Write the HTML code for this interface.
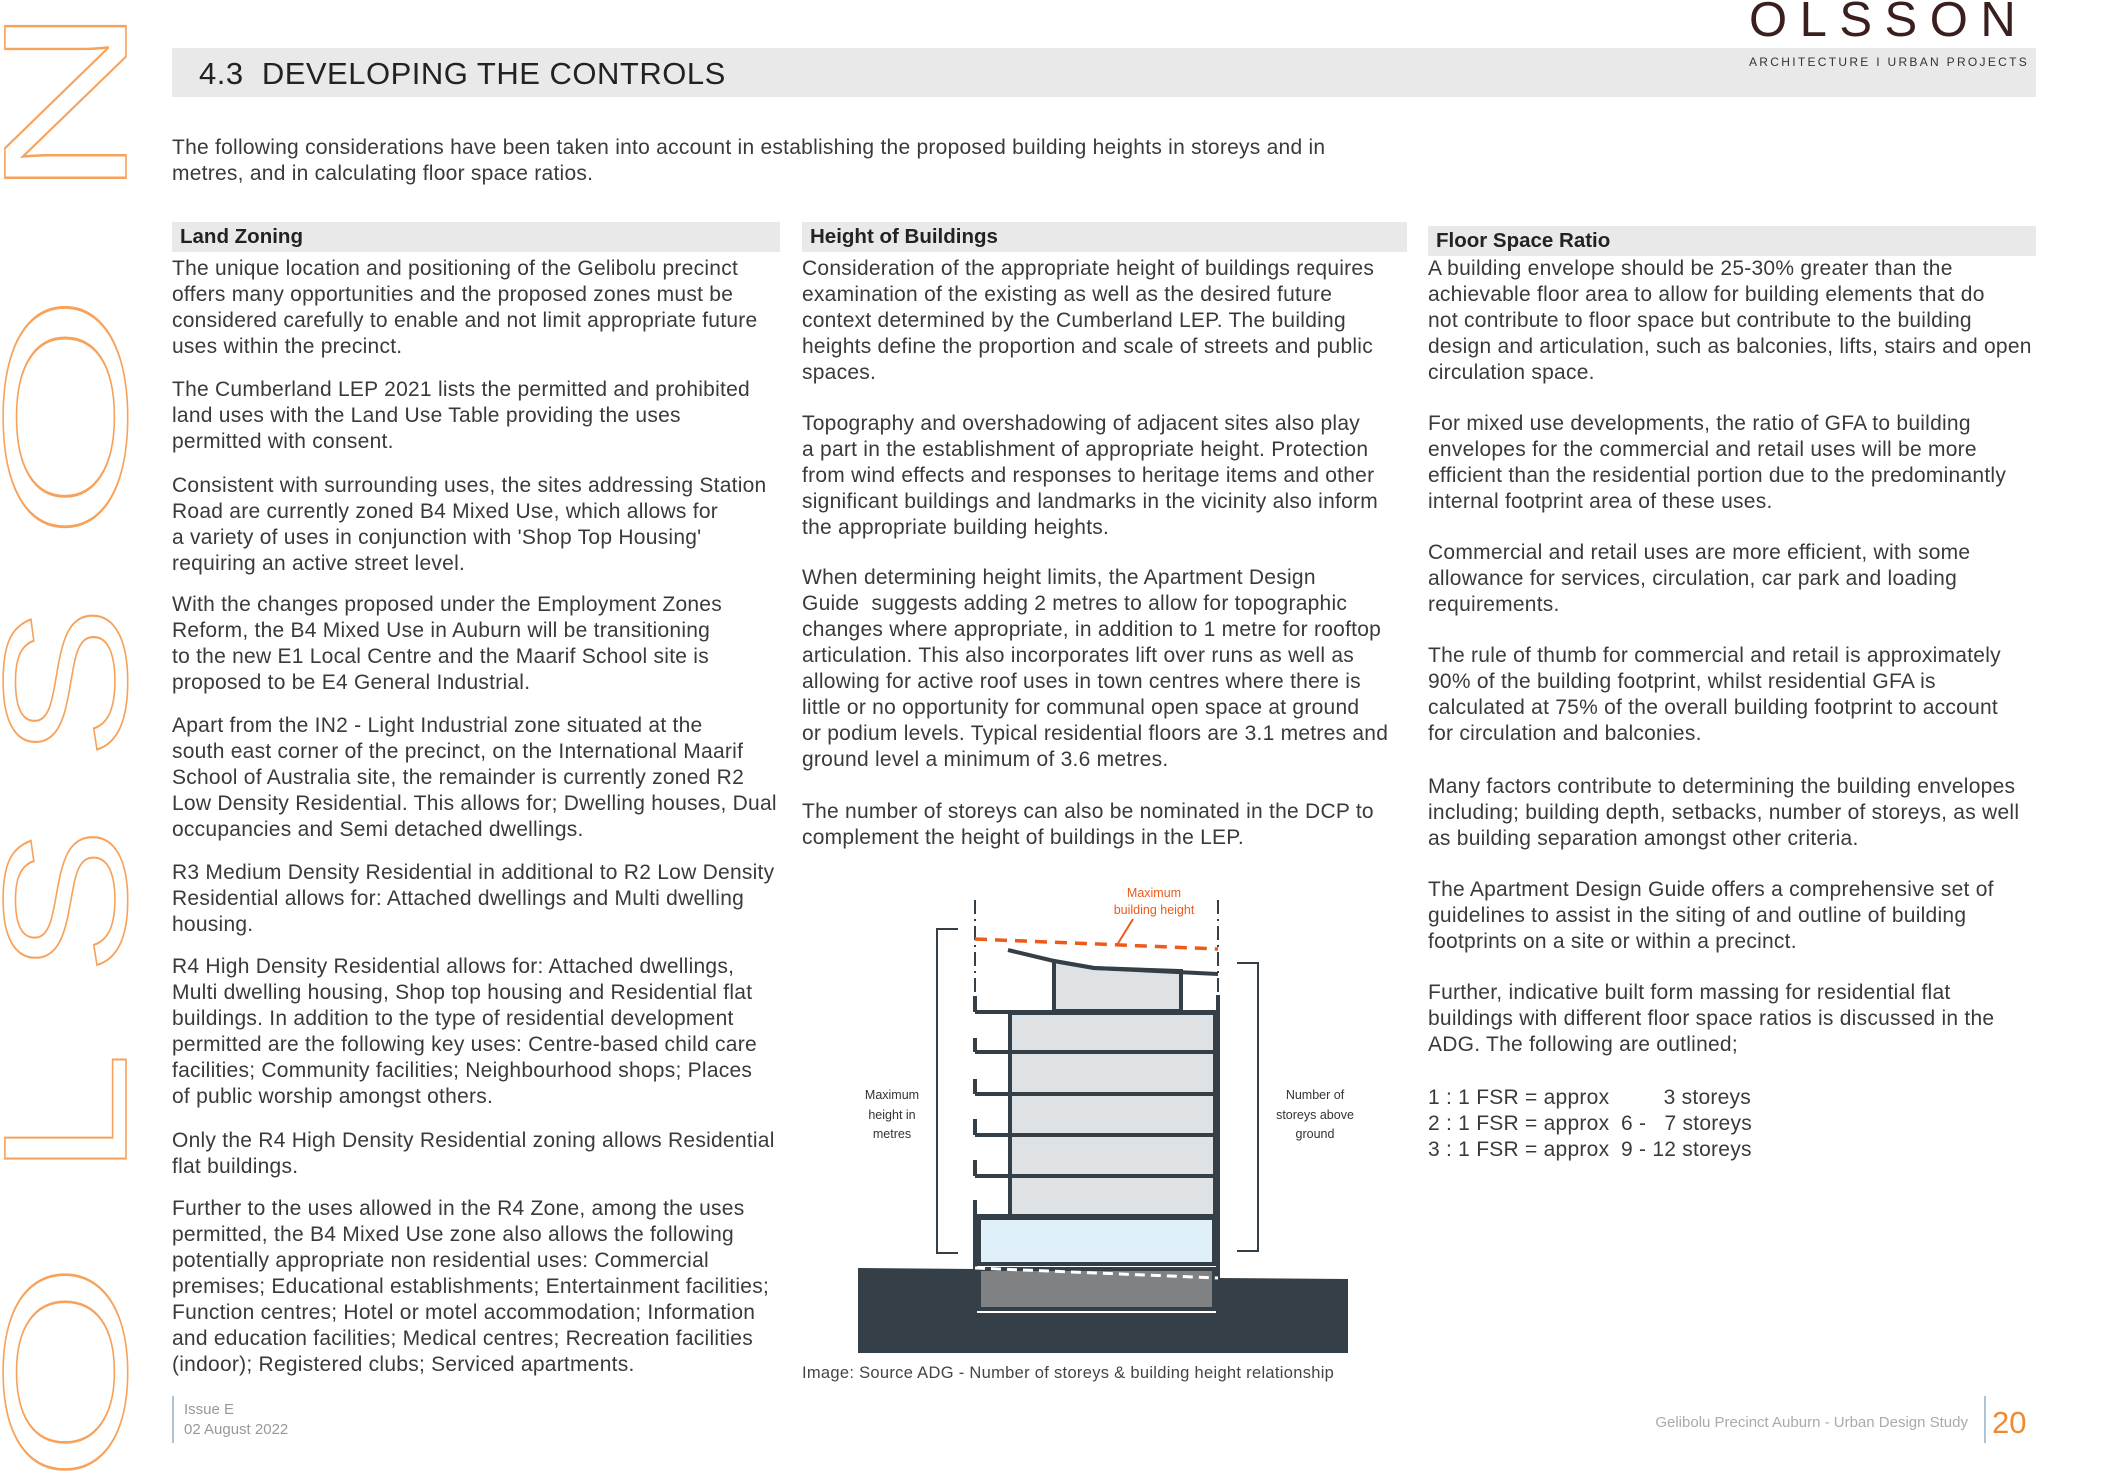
<!DOCTYPE html>
<html><head><meta charset="utf-8"><style>
body{margin:0;width:2109px;height:1484px;position:relative;background:#fff;font-family:"Liberation Sans",sans-serif;color:#3a3a3a;overflow:hidden}
.a{position:absolute;white-space:nowrap}
.p{position:absolute;white-space:nowrap;font-size:21px;letter-spacing:0.25px;line-height:26px;color:#3a3a3a}
.h{position:absolute;background:#e9e9e9;height:30px;font-weight:bold;font-size:20.5px;line-height:30px;padding-left:8px;box-sizing:border-box;color:#222}
</style></head><body>
<svg class="a" style="left:0;top:0" width="180" height="1484">
<g fill="none" stroke="#f7a25a" stroke-width="1.6" font-family="Liberation Sans" font-size="176">
<text transform="translate(126,188) rotate(-90)" textLength="196" lengthAdjust="spacingAndGlyphs" x="-12">N</text>
<text transform="translate(126,531) rotate(-90)" textLength="250" lengthAdjust="spacingAndGlyphs" x="-11">O</text>
<text transform="translate(126,753) rotate(-90)" textLength="155" lengthAdjust="spacingAndGlyphs" x="-7">S</text>
<text transform="translate(126,968) rotate(-90)" textLength="148" lengthAdjust="spacingAndGlyphs" x="-7">S</text>
<text transform="translate(126,1163) rotate(-90)" textLength="125" lengthAdjust="spacingAndGlyphs" x="-14">L</text>
<text transform="translate(126,1473) rotate(-90)" textLength="222" lengthAdjust="spacingAndGlyphs" x="-10">O</text>
</g></svg>
<div class="a" style="left:172px;top:48px;width:1864px;height:49px;background:#e9e9e9"></div>
<div class="a" style="left:199px;top:56px;font-size:31px;color:#222;letter-spacing:0.5px">4.3&nbsp; DEVELOPING THE CONTROLS</div>
<div class="a" style="left:1749px;top:-8px;font-size:49px;letter-spacing:12.5px;color:#3b1f1f">OLSSON</div>
<div class="a" style="left:1749px;top:55px;font-size:12px;letter-spacing:2.3px;color:#333">ARCHITECTURE I URBAN PROJECTS</div>
<div class="p" style="left:172px;top:135px">The following considerations have been taken into account in establishing the proposed building heights in storeys and in<br>metres, and in calculating floor space ratios.</div>
<div class="h" style="left:172px;top:222px;width:608px">Land Zoning</div>
<div class="h" style="left:802px;top:222px;width:605px">Height of Buildings</div>
<div class="h" style="left:1428px;top:226px;width:608px">Floor Space Ratio</div>
<div class="p" style="left:172px;top:256px">The unique location and positioning of the Gelibolu precinct<br>offers many opportunities and the proposed zones must be<br>considered carefully to enable and not limit appropriate future<br>uses within the precinct.</div>
<div class="p" style="left:172px;top:377px">The Cumberland LEP 2021 lists the permitted and prohibited<br>land uses with the Land Use Table providing the uses<br>permitted with consent.</div>
<div class="p" style="left:172px;top:473px">Consistent with surrounding uses, the sites addressing Station<br>Road are currently zoned B4 Mixed Use, which allows for<br>a variety of uses in conjunction with 'Shop Top Housing'<br>requiring an active street level.</div>
<div class="p" style="left:172px;top:592px">With the changes proposed under the Employment Zones<br>Reform, the B4 Mixed Use in Auburn will be transitioning<br>to the new E1 Local Centre and the Maarif School site is<br>proposed to be E4 General Industrial.</div>
<div class="p" style="left:172px;top:713px">Apart from the IN2 - Light Industrial zone situated at the<br>south east corner of the precinct, on the International Maarif<br>School of Australia site, the remainder is currently zoned R2<br>Low Density Residential. This allows for; Dwelling houses, Dual<br>occupancies and Semi detached dwellings.</div>
<div class="p" style="left:172px;top:860px">R3 Medium Density Residential in additional to R2 Low Density<br>Residential allows for: Attached dwellings and Multi dwelling<br>housing.</div>
<div class="p" style="left:172px;top:954px">R4 High Density Residential allows for: Attached dwellings,<br>Multi dwelling housing, Shop top housing and Residential flat<br>buildings. In addition to the type of residential development<br>permitted are the following key uses: Centre-based child care<br>facilities; Community facilities; Neighbourhood shops; Places<br>of public worship amongst others.</div>
<div class="p" style="left:172px;top:1128px">Only the R4 High Density Residential zoning allows Residential<br>flat buildings.</div>
<div class="p" style="left:172px;top:1196px">Further to the uses allowed in the R4 Zone, among the uses<br>permitted, the B4 Mixed Use zone also allows the following<br>potentially appropriate non residential uses: Commercial<br>premises; Educational establishments; Entertainment facilities;<br>Function centres; Hotel or motel accommodation; Information<br>and education facilities; Medical centres; Recreation facilities<br>(indoor); Registered clubs; Serviced apartments.</div>
<div class="p" style="left:802px;top:256px">Consideration of the appropriate height of buildings requires<br>examination of the existing as well as the desired future<br>context determined by the Cumberland LEP. The building<br>heights define the proportion and scale of streets and public<br>spaces.</div>
<div class="p" style="left:802px;top:411px">Topography and overshadowing of adjacent sites also play<br>a part in the establishment of appropriate height. Protection<br>from wind effects and responses to heritage items and other<br>significant buildings and landmarks in the vicinity also inform<br>the appropriate building heights.</div>
<div class="p" style="left:802px;top:565px">When determining height limits, the Apartment Design<br>Guide&nbsp; suggests adding 2 metres to allow for topographic<br>changes where appropriate, in addition to 1 metre for rooftop<br>articulation. This also incorporates lift over runs as well as<br>allowing for active roof uses in town centres where there is<br>little or no opportunity for communal open space at ground<br>or podium levels. Typical residential floors are 3.1 metres and<br>ground level a minimum of 3.6 metres.</div>
<div class="p" style="left:802px;top:799px">The number of storeys can also be nominated in the DCP to<br>complement the height of buildings in the LEP.</div>
<div class="p" style="left:1428px;top:256px">A building envelope should be 25-30% greater than the<br>achievable floor area to allow for building elements that do<br>not contribute to floor space but contribute to the building<br>design and articulation, such as balconies, lifts, stairs and open<br>circulation space.</div>
<div class="p" style="left:1428px;top:411px">For mixed use developments, the ratio of GFA to building<br>envelopes for the commercial and retail uses will be more<br>efficient than the residential portion due to the predominantly<br>internal footprint area of these uses.</div>
<div class="p" style="left:1428px;top:540px">Commercial and retail uses are more efficient, with some<br>allowance for services, circulation, car park and loading<br>requirements.</div>
<div class="p" style="left:1428px;top:643px">The rule of thumb for commercial and retail is approximately<br>90% of the building footprint, whilst residential GFA is<br>calculated at 75% of the overall building footprint to account<br>for circulation and balconies.</div>
<div class="p" style="left:1428px;top:774px">Many factors contribute to determining the building envelopes<br>including; building depth, setbacks, number of storeys, as well<br>as building separation amongst other criteria.</div>
<div class="p" style="left:1428px;top:877px">The Apartment Design Guide offers a comprehensive set of<br>guidelines to assist in the siting of and outline of building<br>footprints on a site or within a precinct.</div>
<div class="p" style="left:1428px;top:980px">Further, indicative built form massing for residential flat<br>buildings with different floor space ratios is discussed in the<br>ADG. The following are outlined;</div>
<div class="p" style="left:1428px;top:1085px">1 : 1 FSR = approx<br>2 : 1 FSR = approx<br>3 : 1 FSR = approx</div>
<div class="p" style="left:1621px;top:1085px">&nbsp;&nbsp;&nbsp;&nbsp;&nbsp;&nbsp;&nbsp;3 storeys<br>6 -&nbsp;&nbsp; 7 storeys<br>9 - 12 storeys</div>
<svg class="a" style="left:0;top:0" width="2109" height="1484">
<polygon points="858,1268 975,1269 975,1313 1218,1313 1218,1278 1348,1279 1348,1353 858,1353" fill="#343f47"/>
<rect x="979" y="1269" width="235" height="40" fill="#7f8183" stroke="#343f47" stroke-width="4"/>
<rect x="979" y="1218" width="235" height="46" fill="#e0f0fb" stroke="#343f47" stroke-width="4"/>
<g fill="#dfe2e5" stroke="#343f47" stroke-width="4">
<rect x="1010" y="1013" width="205" height="39"/><rect x="1010" y="1052" width="205" height="42"/><rect x="1010" y="1094" width="205" height="41"/><rect x="1010" y="1135" width="205" height="41"/><rect x="1010" y="1176" width="205" height="40"/>
<polygon points="1054,961 1094,968 1181,971 1181,1011 1054,1011"/></g>
<g stroke="#343f47" stroke-width="4" fill="none">
<line x1="975" y1="1012" x2="1218" y2="1012"/><line x1="975" y1="996" x2="975" y2="1012"/><line x1="1218" y1="995" x2="1218" y2="1313"/>
<line x1="975" y1="1052" x2="1010" y2="1052"/><line x1="975" y1="1038" x2="975" y2="1052"/>
<line x1="975" y1="1094" x2="1010" y2="1094"/><line x1="975" y1="1079" x2="975" y2="1094"/>
<line x1="975" y1="1135" x2="1010" y2="1135"/><line x1="975" y1="1119" x2="975" y2="1135"/>
<line x1="975" y1="1176" x2="1010" y2="1176"/><line x1="975" y1="1160" x2="975" y2="1176"/>
<line x1="975" y1="1216" x2="1010" y2="1216"/><line x1="975" y1="1200" x2="975" y2="1313"/>
<polyline points="1008,950 1054,961 1094,968 1218,974"/>
</g>
<g stroke="#343f47" stroke-width="2" fill="none" stroke-dasharray="14,5,2,5">
<line x1="975" y1="900" x2="975" y2="995"/><line x1="1218" y1="900" x2="1218" y2="995"/></g>
<line x1="975" y1="1268" x2="1218" y2="1278" stroke="#fff" stroke-width="3" stroke-dasharray="10,6"/>
<line x1="975" y1="939" x2="1218" y2="949" stroke="#ee5a1a" stroke-width="3.5" stroke-dasharray="12,8"/>
<line x1="1133" y1="919" x2="1117" y2="945" stroke="#ee5a1a" stroke-width="2"/>
<g stroke="#343f47" stroke-width="2" fill="none">
<polyline points="958,929 937,929 937,1253 958,1253"/><polyline points="1237,963 1258,963 1258,1251 1237,1251"/></g>
<g font-family="Liberation Sans" font-size="12.5" text-anchor="middle">
<text x="1154" y="897" fill="#ee5a1a">Maximum</text><text x="1154" y="914" fill="#ee5a1a">building height</text>
<g fill="#333"><text x="892" y="1099">Maximum</text><text x="892" y="1119">height in</text><text x="892" y="1138">metres</text>
<text x="1315" y="1099">Number of</text><text x="1315" y="1119">storeys above</text><text x="1315" y="1138">ground</text></g></g>
</svg>
<div class="a" style="left:802px;top:1364px;font-size:16.5px;letter-spacing:0.3px;color:#444">Image: Source ADG - Number of storeys &amp; building height relationship</div>
<div class="a" style="left:172px;top:1396px;width:2px;height:47px;background:#aac4da"></div>
<div class="a" style="left:184px;top:1400px;font-size:15px;line-height:20px;color:#999">Issue E<br>02 August 2022</div>
<div class="a" style="left:1600px;top:1414px;font-size:15px;color:#aaa;width:368px;text-align:right">Gelibolu Precinct Auburn - Urban Design Study</div>
<div class="a" style="left:1984px;top:1396px;width:2px;height:47px;background:#aac4da"></div>
<div class="a" style="left:1992px;top:1405px;font-size:31px;color:#f08a30">20</div>
</body></html>
